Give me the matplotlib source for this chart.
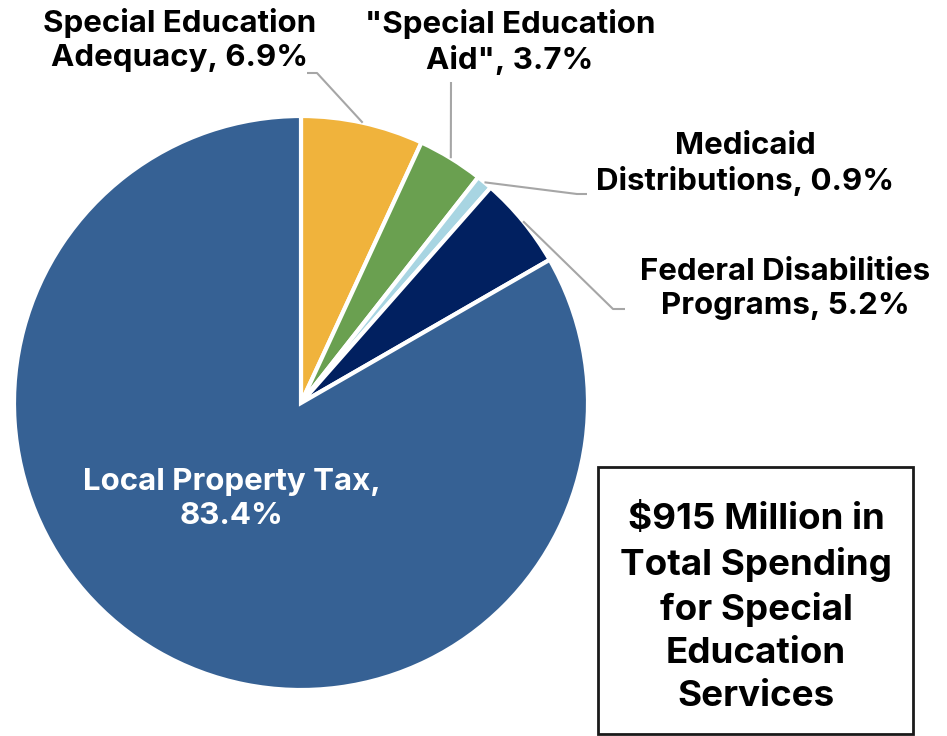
import numpy as np
import matplotlib
matplotlib.use("Agg")
from matplotlib import pyplot as plt
from matplotlib.patches import Rectangle

# data
labels = ['Special Education\nAdequacy, 6.9%',
          '"Special Education\nAid", 3.7%',
          'Medicaid\nDistributions, 0.9%',
          'Federal Disabilities\nPrograms, 5.2%',
          'Local Property Tax,\n83.4%']
shares = [6.9, 3.7, 0.9, 5.2, 83.4]
colors = ['#F0B33C', '#6AA050', '#A8D5E2', '#012060', '#366194']
box_text = '$915 Million in\nTotal Spending\nfor Special\nEducation\nServices'

W, H = 947, 736
plt.rcParams['font.family'] = ['Inter', 'DejaVu Sans']

fig = plt.figure(figsize=(W / 100, H / 100), dpi=100)
ax = fig.add_axes([0, 0, 1, 1])

cx, cy, r = 301, H - 403, 287
wedges, _ = ax.pie(shares, colors=colors, startangle=90, counterclock=False,
                   radius=r, center=(cx, cy),
                   wedgeprops=dict(edgecolor='white', linewidth=3))

ax.set_xlim(0, W)
ax.set_ylim(0, H)
ax.set_aspect('equal')
ax.axis('off')

# label positions (pixels from top-left) and leader elbows
label_pos = [(180, 40), (510, 42), (745, 164), (785, 289), (232, 499)]
elbows = [[(317, 73), (307, 73)],
          [(451, 82)],
          [(577, 194), (587, 194)],
          [(613, 309), (625, 309)],
          None]

fs = 22.5
for i, w in enumerate(wedges):
    x, y = label_pos[i]
    col = 'white' if i == 4 else 'black'
    ax.text(x, H - y, labels[i], ha='center', va='center', fontsize=fs,
            fontweight='bold', color=col, linespacing=1.25)
    if elbows[i] is not None:
        ang = np.deg2rad((w.theta1 + w.theta2) / 2)
        xs = [cx + r * np.cos(ang)] + [p[0] for p in elbows[i]]
        ys = [cy + r * np.sin(ang)] + [H - p[1] for p in elbows[i]]
        ax.plot(xs, ys, color='#A6A6A6', lw=1.5, solid_capstyle='butt')

ax.add_patch(Rectangle((598, H - 734), 315, 267, fill=False,
                       edgecolor='#1a1a1a', lw=2))
ax.text(756, H - 608, box_text, ha='center', va='center', fontsize=26.5,
        fontweight='bold', linespacing=1.38)

plt.savefig('out.png', dpi=100)
